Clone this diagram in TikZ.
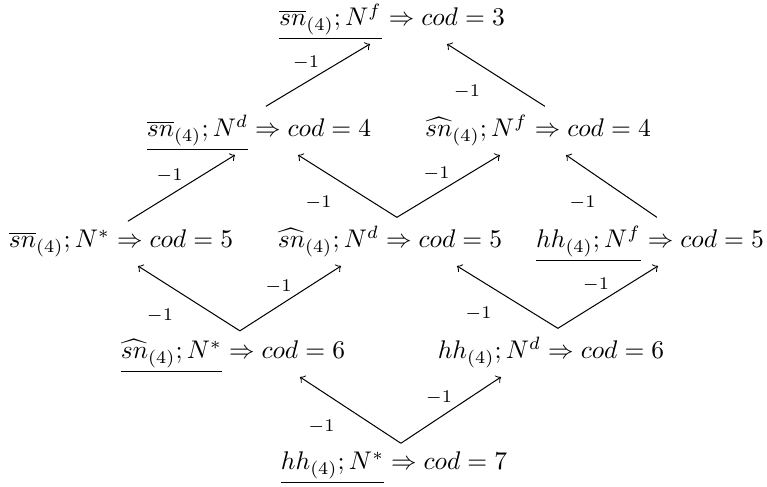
\documentclass[tikz,border=0pt]{standalone}
\usetikzlibrary{calc}

\begin{document}
\begin{tikzpicture}[x=0.392pt,y=0.392pt,
  st/.style={anchor=base},
  ar/.style={->},
  lr/.style={font=\scriptsize,shift={(-12,12)}},
  ll/.style={font=\scriptsize,shift={(-29,-17)}}]
\useasboundingbox (0,0) rectangle (767,487);
% the lattice, top to bottom
\node[st] (r1) at (392,461) {$\underline{\overline{sn}_{(4)};N^f}\Rightarrow cod=3$};
\node[st] (r2l) at (259,350) {$\underline{\overline{sn}_{(4)};N^d}\Rightarrow cod=4$};
\node[st] (r2r) at (538,350) {$\widehat{sn}_{(4)};N^f\Rightarrow cod=4$};
\node[st] (r3l) at (121,239) {$\overline{sn}_{(4)};N^*\Rightarrow cod=5$};
\node[st] (r3m) at (390,239) {$\widehat{sn}_{(4)};N^d\Rightarrow cod=5$};
\node[st] (r3r) at (650,239) {$\underline{hh_{(4)};N^f}\Rightarrow cod=5$};
\node[st] (r4l) at (233,128) {$\underline{\widehat{sn}_{(4)};N^*}\Rightarrow cod=6$};
\node[st] (r4r) at (551,128) {$hh_{(4)};N^d\Rightarrow cod=6$};
\node[st] (r5) at (394,17) {$\underline{hh_{(4)};N^*}\Rightarrow cod=7$};
% arrows
\draw[ar] ([xshift=2.7pt]r5.north) -- node[ll]{$-1$} ($(r4l.base)+(67,-18)$);
\draw[ar] ([xshift=2.7pt]r5.north) -- node[lr]{$-1$} ($(r4r.base)+(-50,-18)$);
\draw[ar] ([xshift=2.7pt]r4l.north) -- node[ll]{$-1$} ($(r3l.base)+(17,-18)$);
\draw[ar] ([xshift=2.7pt]r4l.north) -- node[lr]{$-1$} ($(r3m.base)+(-49,-18)$);
\draw[ar] ([xshift=2.7pt]r4r.north) -- node[ll]{$-1$} ($(r3m.base)+(67,-18)$);
\draw[ar] ([xshift=2.7pt]r4r.north) -- node[lr]{$-1$} ($(r3r.base)+(8,-18)$);
\draw[ar] ([xshift=2.7pt]r3l.north) -- node[lr]{$-1$} ($(r2l.base)+(-24,-18)$);
\draw[ar] ([xshift=2.7pt]r3m.north) -- node[ll]{$-1$} ($(r2l.base)+(39,-18)$);
\draw[ar] ([xshift=2.7pt]r3m.north) -- node[lr]{$-1$} ($(r2r.base)+(-38,-18)$);
\draw[ar] ([xshift=2.7pt]r3r.north) -- node[ll]{$-1$} ($(r2r.base)+(28,-18)$);
\draw[ar] ([xshift=2.7pt]r2l.north) -- node[lr]{$-1$} ($(r1.base)+(-22,-18)$);
\draw[ar] ([xshift=2.7pt]r2r.north) -- node[ll]{$-1$} ($(r1.base)+(55,-18)$);
\end{tikzpicture}
\end{document}
